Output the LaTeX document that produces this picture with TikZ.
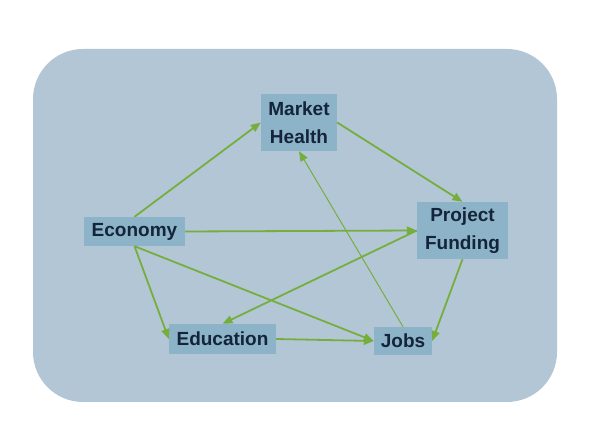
\documentclass[tikz,border=0pt]{standalone}
\usepackage{fontspec}
\setmainfont{Liberation Sans}
\usetikzlibrary{arrows.meta}
\definecolor{panel}{HTML}{B3C6D6}
\definecolor{boxfill}{HTML}{8CB3C7}
\definecolor{linkgreen}{HTML}{76AE3E}
\definecolor{labelink}{HTML}{14243A}

\begin{document}
\begin{tikzpicture}[x=1pt, y=1pt,
	factor/.style={fill=boxfill, text=labelink, font=\fontsize{19}{27.5}\selectfont\bfseries, align=center, inner sep=0pt},
	link/.style={draw=linkgreen, line width=1.8pt, -{Triangle[length=10pt, width=8pt]}},
	thinlink/.style={link, line width=1pt}]
	\useasboundingbox (0,0) rectangle (591,441);
	\fill [panel, rounded corners=50pt] (33,39) rectangle (557,392);
	\node [factor, minimum width=76pt, minimum height=57pt] (market) at (299,318.5) {Market \\ Health};
	\node [factor, minimum width=91pt, minimum height=57pt] (funding) at (462.5,210.5) {Project \\ Funding};
	\node [factor, minimum width=101pt, minimum height=29pt] (economy) at (134.5,209.5) {Economy};
	\node [factor, minimum width=107pt, minimum height=30pt] (education) at (222.5,102) {Education};
	\node [factor, minimum width=58pt, minimum height=28pt] (jobs) at (403,100) {Jobs};
	\draw [link] (economy.north) -- (market.west);
	\draw [link] (market.east) -- (funding.north);
	\draw [link] (economy.east) -- (funding.west);
	\draw [link] (economy.south) -- (education.west);
	\draw [link] (economy.south) -- (jobs.west);
	\draw [link] (funding.west) -- (education.north);
	\draw [link] (funding.south) -- (jobs.east);
	\draw [link] (education.east) -- (jobs.west);
	\draw [thinlink] (jobs.north) -- (market.south);
\end{tikzpicture}
\end{document}
